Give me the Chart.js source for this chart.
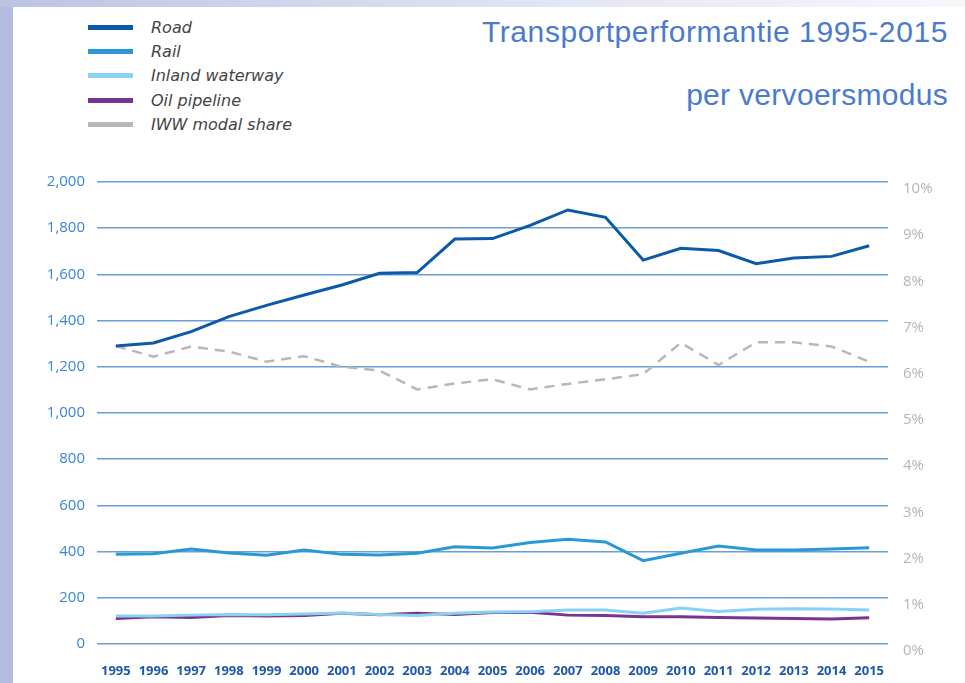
<!DOCTYPE html>
<html>
<head>
<meta charset="utf-8">
<script src="https://cdn.jsdelivr.net/npm/chart.js@4.4.0/dist/chart.umd.min.js"></script>
<style>
  html, body { margin: 0; padding: 0; }
  body {
    width: 965px; height: 683px; position: relative; overflow: hidden;
    background: #ffffff;
  }
  #bandLeft { position: absolute; left: 0; top: 0; width: 13px; height: 683px; background: #b4bde0; }
  #bandTop { position: absolute; left: 0; top: 0; width: 965px; height: 7px;
    background: linear-gradient(to right, #bcc4e4, #e4e7f4 60%, #f7f8fc); }
  #titre { position: absolute; right: 17px; top: 17px; text-align: right;
    font-family: "Liberation Sans", Arial, sans-serif; font-size: 30px; letter-spacing: 0.6px; color: #4a7bcc; line-height: 1; }
  #sousTitre { position: absolute; right: 17px; top: 80px; text-align: right;
    font-family: "Liberation Sans", Arial, sans-serif; font-size: 30px; letter-spacing: 0.3px; color: #4a7bcc; line-height: 1; }
  #legende { position: absolute; left: 88px; top: 15px; }
  .item { height: 24.4px; display: flex; align-items: center; }
  .trait { width: 45px; height: 5px; margin-right: 18px; }
  .texte { font-family: "DejaVu Sans", Verdana, sans-serif; font-style: italic; font-size: 16px; color: #444; }
  #zone { position: absolute; left: 0; top: 0; width: 965px; height: 683px; }
</style>
</head>
<body>
<div id="bandLeft"></div>
<div id="bandTop"></div>
<div id="titre">Transportperformantie 1995-2015</div>
<div id="sousTitre">per vervoersmodus</div>
<div id="legende"></div>
<div id="zone"><canvas id="graphique" width="965" height="683"></canvas></div>
<script>
// Données
const annees = ['1995','1996','1997','1998','1999','2000','2001','2002','2003','2004','2005',
                '2006','2007','2008','2009','2010','2011','2012','2013','2014','2015'];
const route = [1290, 1303, 1352, 1417, 1466, 1511, 1554, 1605, 1608, 1753, 1755,
               1812, 1879, 1847, 1662, 1713, 1703, 1646, 1671, 1678, 1724];
const rail = [388, 391, 411, 394, 384, 407, 388, 385, 393, 421, 416,
              439, 453, 442, 361, 393, 424, 407, 407, 411, 417];
const voieNavigable = [121, 121, 125, 128, 127, 130, 134, 128, 123, 133, 138,
                       140, 147, 147, 133, 156, 141, 150, 153, 151, 147];
const oleoduc = [110, 118, 115, 123, 121, 123, 133, 127, 133, 128, 136,
                 137, 125, 123, 118, 118, 115, 113, 110, 108, 114];
const partModale = [0.0645, 0.0622, 0.0644, 0.0633, 0.0611, 0.0623, 0.0600, 0.0592, 0.0551, 0.0564, 0.0573,
                    0.0551, 0.0563, 0.0573, 0.0584, 0.0652, 0.0604, 0.0653, 0.0653, 0.0644, 0.0611];

const noms = ['Road', 'Rail', 'Inland waterway', 'Oil pipeline', 'IWW modal share'];
const couleurs = ['#0b5aa9', '#2a98d5', '#8ad2f3', '#7a3390', '#b8b8b8'];

// Légende
const legende = document.getElementById('legende');
noms.forEach((nom, i) => {
    legende.innerHTML += `<div class="item"><div class="trait" style="background:${couleurs[i]}"></div><span class="texte">${nom}</span></div>`;
});

const ctx = document.getElementById('graphique').getContext('2d');
new Chart(ctx, {
    type: 'line',
    data: {
        labels: annees,
        datasets: [
            { label: noms[0], data: route, borderColor: couleurs[0], borderWidth: 3, yAxisID: 'y' },
            { label: noms[1], data: rail, borderColor: couleurs[1], borderWidth: 3, yAxisID: 'y' },
            { label: noms[2], data: voieNavigable, borderColor: couleurs[2], borderWidth: 3, yAxisID: 'y' },
            { label: noms[3], data: oleoduc, borderColor: couleurs[3], borderWidth: 3, yAxisID: 'y' },
            { label: noms[4], data: partModale, borderColor: couleurs[4], borderWidth: 2.5, borderDash: [10, 7], yAxisID: 'y2' }
        ]
    },
    options: {
        responsive: false,
        animation: false,
        elements: { point: { radius: 0 }, line: { tension: 0, fill: false } },
        layout: { padding: { top: 182, left: 0, right: 0, bottom: 0 } },
        plugins: { legend: { display: false }, tooltip: { enabled: false } },
        scales: {
            x: {
                offset: true,
                grid: { display: false },
                border: { display: false },
                ticks: { color: '#1f58a8', font: { family: 'Open Sans', size: 13, weight: 'bold' }, padding: 11, maxRotation: 0, autoSkip: false },
                afterFit: s => { s.height = 39; }
            },
            y: {
                position: 'left',
                min: 0, max: 2000,
                ticks: { stepSize: 200, color: '#3a86d4', font: { family: 'Open Sans', size: 15 }, padding: 12,
                         callback: v => v.toLocaleString('en-US') },
                grid: { color: '#6a9fd6', lineWidth: 1.6, drawTicks: false },
                border: { display: false },
                afterFit: s => { s.width = 97; }
            },
            y2: {
                position: 'right',
                min: 0, max: 0.10,
                ticks: { stepSize: 0.01, color: '#b5b5b5', font: { family: 'Open Sans', size: 15 }, padding: 7, labelOffset: 7,
                         callback: v => Math.round(v * 100) + '%' },
                grid: { display: false },
                border: { display: false },
                afterFit: s => { s.width = 77; }
            }
        }
    }
});
</script>
</body>
</html>
